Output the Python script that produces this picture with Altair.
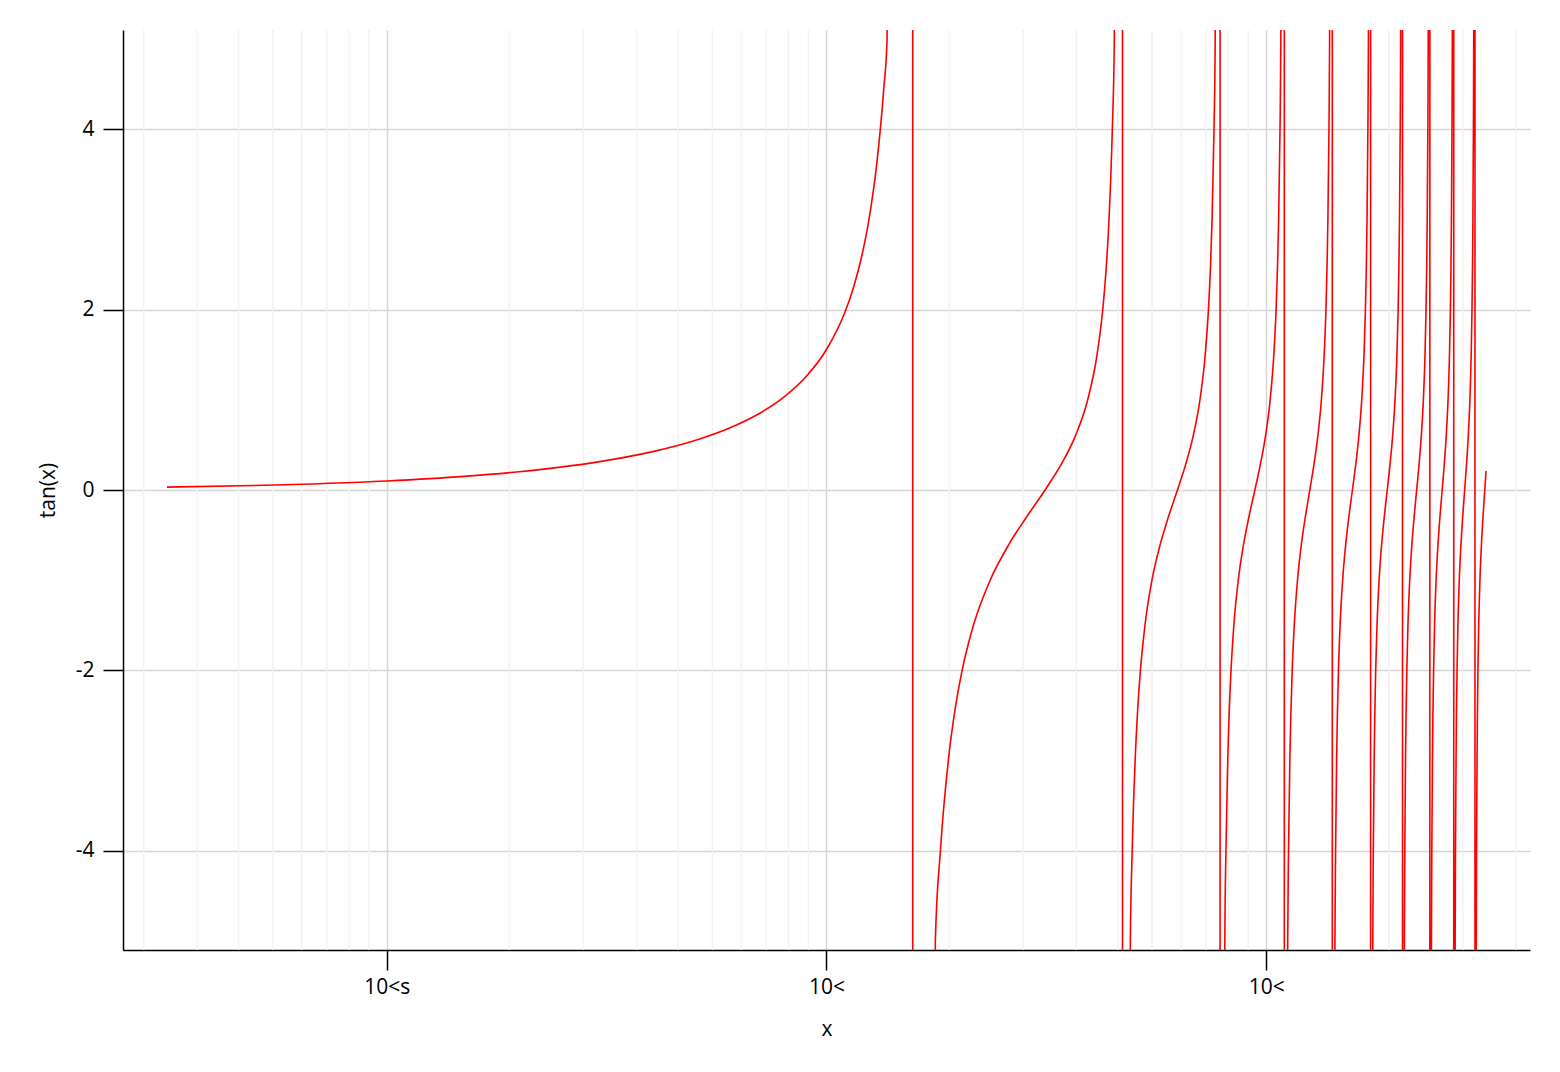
import altair as alt
import pandas as pd

# ---- data: y = tan(x) on a log x axis ----
# branch 0 (0.0316 .. pi/2)
branch0_x = [0.031623, 0.05, 0.1, 0.15, 0.2, 0.3, 0.4, 0.5, 0.6, 0.7, 0.8, 0.9,
             1.0, 1.1, 1.15, 1.2, 1.25, 1.3, 1.35, 1.3734, 1.5698]
branch0_y = [0.0316, 0.0500, 0.1003, 0.1511, 0.2027, 0.3093, 0.4228, 0.5463, 0.6841,
             0.8423, 1.0296, 1.2602, 1.5574, 1.9648, 2.2345, 2.5722, 3.0096, 3.6021,
             4.4552, 5.0, 1000]

# full branches 1..9 share these tan levels
level_y = [-1000, -5, -4, -3, -2.5, -2, -1.5, -1, -0.6, -0.3, 0,
           0.3, 0.6, 1, 1.5, 2, 2.5, 3, 4, 5, 1000]

branch1_x = [1.5718, 1.7682, 1.8158, 1.8925, 1.9513, 2.0345, 2.1588, 2.3562, 2.6012, 2.8501, 3.1416,
             3.4331, 3.6820, 3.9270, 4.1244, 4.2487, 4.3319, 4.3907, 4.4674, 4.5150, 4.7114]
branch2_x = [4.7134, 4.9098, 4.9574, 5.0341, 5.0929, 5.1761, 5.3004, 5.4978, 5.7428, 5.9917, 6.2832,
             6.5747, 6.8236, 7.0686, 7.2660, 7.3903, 7.4735, 7.5323, 7.6090, 7.6566, 7.8530]
branch3_x = [7.8550, 8.0514, 8.0990, 8.1757, 8.2345, 8.3177, 8.4420, 8.6394, 8.8844, 9.1333, 9.4248,
             9.7163, 9.9652, 10.2102, 10.4076, 10.5319, 10.6151, 10.6739, 10.7506, 10.7982, 10.9946]
branch4_x = [10.9966, 11.1930, 11.2406, 11.3173, 11.3761, 11.4593, 11.5836, 11.7810, 12.0260, 12.2749, 12.5664,
             12.8579, 13.1068, 13.3518, 13.5492, 13.6735, 13.7567, 13.8155, 13.8922, 13.9398, 14.1362]
branch5_x = [14.1382, 14.3346, 14.3822, 14.4589, 14.5177, 14.6009, 14.7252, 14.9226, 15.1676, 15.4165, 15.7080,
             15.9995, 16.2484, 16.4934, 16.6908, 16.8151, 16.8983, 16.9571, 17.0338, 17.0814, 17.2778]
branch6_x = [17.2798, 17.4762, 17.5238, 17.6005, 17.6593, 17.7425, 17.8668, 18.0642, 18.3092, 18.5581, 18.8496,
             19.1411, 19.3900, 19.6350, 19.8324, 19.9567, 20.0399, 20.0987, 20.1754, 20.2230, 20.4194]
branch7_x = [20.4213, 20.6177, 20.6653, 20.7420, 20.8008, 20.8840, 21.0083, 21.2057, 21.4507, 21.6996, 21.9911,
             22.2826, 22.5315, 22.7765, 22.9739, 23.0982, 23.1814, 23.2402, 23.3169, 23.3645, 23.5609]
branch8_x = [23.5629, 23.7593, 23.8069, 23.8836, 23.9424, 24.0256, 24.1499, 24.3473, 24.5923, 24.8412, 25.1327,
             25.4242, 25.6731, 25.9181, 26.1155, 26.2398, 26.3230, 26.3818, 26.4585, 26.5061, 26.7025]
branch9_x = [26.7045, 26.9009, 26.9485, 27.0252, 27.0840, 27.1672, 27.2915, 27.4889, 27.7339, 27.9828, 28.2743,
             28.5658, 28.8147, 29.0597, 29.2571, 29.3814, 29.4646, 29.5234, 29.6001, 29.6477, 29.8441]

# last partial branch (ends at x = 31.62)
branch10_x = [29.8461, 30.0425, 30.0901, 30.1668, 30.2256, 30.3088, 30.4331, 30.6305, 30.8755, 31.1244, 31.4159, 31.6228]
branch10_y = [-1000, -5, -4, -3, -2.5, -2, -1.5, -1, -0.6, -0.3, 0, 0.21]

# axis ticks and labels as shown in the reference
x_tick_values = [0.1, 1, 10]
x_tick_labels = ["10<s", "10<", "10<"]
y_tick_values = [-4, -2, 0, 2, 4]
# faint minor grid lines (evenly split decades, as in the reference)
minor_x = [0.028, 0.037, 0.046, 0.055, 0.064, 0.073, 0.082, 0.091,
           0.19, 0.28, 0.37, 0.46, 0.55, 0.64, 0.73, 0.82, 0.91,
           1.9, 2.8, 3.7, 4.6, 5.5, 6.4, 7.3, 8.2, 9.1,
           19, 28, 37]

# ---- build tables ----
xs = list(branch0_x)
ys = list(branch0_y)
for bx in [branch1_x, branch2_x, branch3_x, branch4_x, branch5_x,
           branch6_x, branch7_x, branch8_x, branch9_x]:
    xs += bx
    ys += level_y
xs += branch10_x
ys += branch10_y
df = pd.DataFrame({"x": xs, "y": ys})
minor_df = pd.DataFrame({"x": minor_x})

FONT = "Open Sans"
FS = 21

label_expr = " : ".join(
    f"datum.value == {v} ? '{l}'" for v, l in zip(x_tick_values, x_tick_labels)
) + " : ''"

x_scale = alt.Scale(type="log", domain=[0.02512, 39.81], nice=False)
x_axis = alt.Axis(
    values=x_tick_values, labelExpr=label_expr, title="x",
    grid=True, gridColor="#d6d6d6", gridWidth=1.5,
    domainColor="black", domainWidth=1.5, tickColor="black", tickWidth=1.5,
    tickSize=20, labelPadding=6, labelFontSize=FS, labelFont=FONT, labelColor="black",
    titleFontSize=FS, titleFont=FONT, titleFontWeight="normal", titleColor="black",
    titlePadding=21, labelFlush=False, labelOverlap=False,
)
y_axis = alt.Axis(
    values=y_tick_values,
    labelExpr="datum.value < 0 ? '-' + abs(datum.value) : '' + datum.value",
    title="tan(x)", grid=True, gridColor="#d6d6d6", gridWidth=1.5,
    domainColor="black", domainWidth=1.5, tickColor="black", tickWidth=1.5,
    tickSize=20, labelPadding=9, labelFontSize=FS, labelFont=FONT, labelColor="black",
    titleFontSize=FS, titleFont=FONT, titleFontWeight="normal", titleColor="black",
    titlePadding=17, labelFlush=False,
)
y_scale = alt.Scale(domain=[-5.1, 5.1], nice=False, zero=False)

minor = alt.Chart(minor_df).mark_rule(color="#f2f2f2", strokeWidth=1.5).encode(
    x=alt.X("x:Q", scale=x_scale, axis=x_axis),
)

line = alt.Chart(df).mark_line(
    color="#ff0000", strokeWidth=1.6, clip=True, interpolate="monotone"
).encode(
    x=alt.X("x:Q", scale=x_scale, axis=x_axis),
    y=alt.Y("y:Q", scale=y_scale, axis=y_axis),
)

chart = alt.layer(minor, line).properties(
    width=1407, height=920,
    autosize=alt.AutoSizeParams(type="none"),
    padding={"left": 115, "top": 22, "right": 22, "bottom": 114},
    background="white",
).configure_view(stroke=None)

chart.save("out.html", embed_options={"renderer": "svg", "actions": False})
